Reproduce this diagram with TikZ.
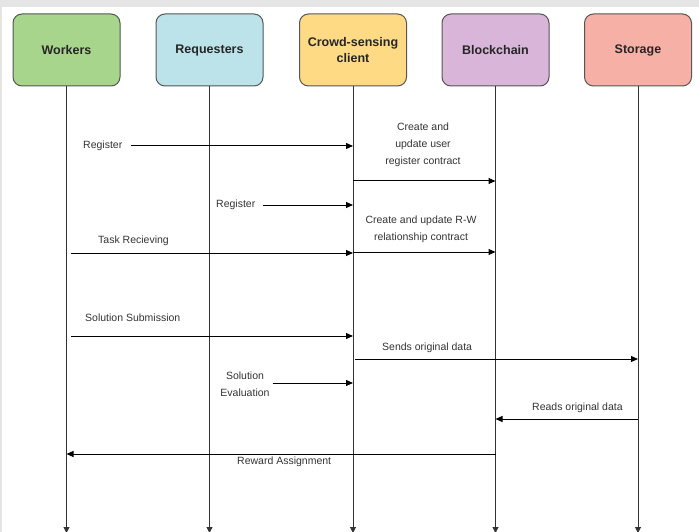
\documentclass[tikz,border=0pt]{standalone}
\usepackage{fontspec}
\setmainfont{Liberation Sans}
\usetikzlibrary{arrows.meta}
\definecolor{wfill}{HTML}{A8D58C}
\definecolor{rfill}{HTML}{BDE3EA}
\definecolor{cfill}{HTML}{FFDA85}
\definecolor{bfill}{HTML}{D9B5D9}
\definecolor{sfill}{HTML}{F7B0A6}
\definecolor{edge}{HTML}{555555}
\definecolor{txt}{HTML}{333333}
\tikzset{
  head/.style={draw=edge, line width=1pt, rounded corners=9pt, minimum width=107pt, minimum height=72pt, align=center, font=\fontsize{12.5}{16}\selectfont\bfseries, text=black!85},
  life/.style={draw=black!80, line width=1pt, -{Triangle[length=6pt,width=6pt]}},
  msg/.style={draw=black, line width=1pt, -{Triangle[length=7pt,width=6pt]}},
  lbl/.style={font=\fontsize{10.5}{17}\selectfont, text=txt, align=center, inner sep=1pt},
}
\begin{document}
\begin{tikzpicture}[x=1pt,y=-1pt]
\useasboundingbox (0,0) rectangle (699,532);
\fill[black!10] (0,0) rectangle (699,7);
\fill[black!10] (0,0) rectangle (2,532);
% headers
\node[head, fill=wfill] (w) at (66.5,50) {Workers};
\node[head, fill=rfill] (r) at (209.5,50) {Requesters};
\node[head, fill=cfill] (c) at (353,50) {Crowd-sensing\\client};
\node[head, fill=bfill] (b) at (495.5,50) {Blockchain};
\node[head, fill=sfill] (s) at (638,50) {Storage};
% lifeline ends
\coordinate (we) at (66.5,533);
\coordinate (re) at (209.5,533);
\coordinate (ce) at (353,533);
\coordinate (be) at (495.5,533);
\coordinate (se) at (638,533);
\draw[life] (w.south) -- (we);
\draw[life] (r.south) -- (re);
\draw[life] (c.south) -- (ce);
\draw[life] (b.south) -- (be);
\draw[life] (s.south) -- (se);
% messages
\node[lbl, anchor=west] (m1) at (82,146) {Register};
\draw[msg] (m1.east) ++(8,0) coordinate (m1s) -- (m1s -| c);

\node[lbl] (m2) at (423,145) {Create and\\update user\\register contract};
\coordinate (m2y) at (0,181);
\draw[msg] (c |- m2y) -- (b |- m2y);

\node[lbl, anchor=west] (m3) at (215,205) {Register};
\draw[msg] (m3.east) ++(6,0) coordinate (m3s) -- (m3s -| c);

\node[lbl] (m4) at (421,229) {Create and update R-W\\relationship contract};
\coordinate (m4y) at (0,252);
\draw[msg] (c |- m4y) -- (b |- m4y);

\node[lbl, anchor=west] (m5) at (97,241) {Task Recieving};
\coordinate (m5y) at (0,253);
\draw[msg] ([xshift=4pt]w |- m5y) -- (c |- m5y);

\node[lbl, anchor=west] (m6) at (84,318) {Solution Submission};
\coordinate (m6y) at (0,336);
\draw[msg] ([xshift=4pt]w |- m6y) -- (c |- m6y);

\node[lbl, anchor=west] (m7) at (381,348) {Sends original data};
\coordinate (m7y) at (0,359);
\draw[msg] ([xshift=2pt]c |- m7y) -- (s |- m7y);

\node[lbl] (m8) at (245,384) {Solution\\Evaluation};
\draw[msg] (m8.east) ++(2,-1) coordinate (m8s) -- (m8s -| c);

\node[lbl, anchor=west] (m9) at (531,408) {Reads original data};
\coordinate (m9y) at (0,419);
\draw[msg] (s |- m9y) -- (b |- m9y);

\node[lbl, anchor=west] (m10) at (236,462) {Reward Assignment};
\coordinate (m10y) at (0,454);
\draw[msg] (b |- m10y) -- (w |- m10y);
\end{tikzpicture}
\end{document}
